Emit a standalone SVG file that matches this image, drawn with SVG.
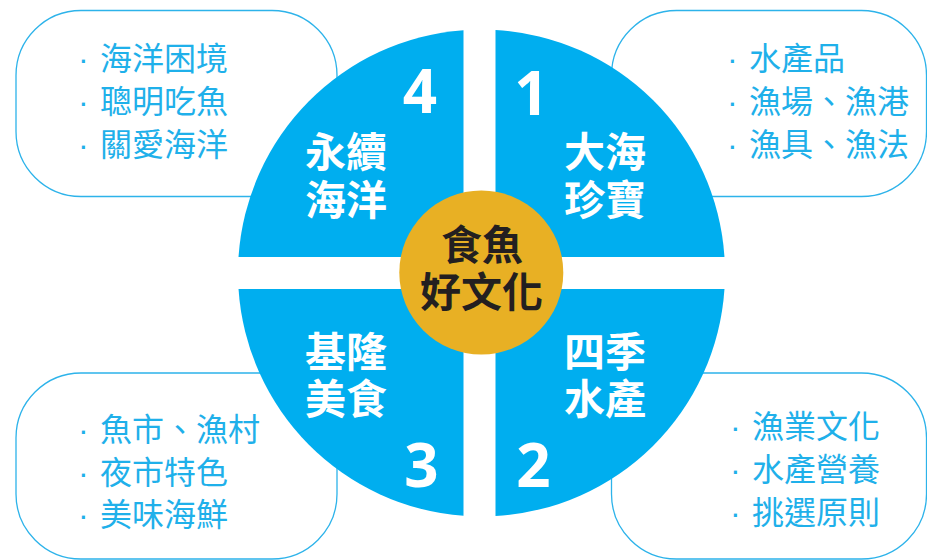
<svg xmlns="http://www.w3.org/2000/svg" width="927" height="560" viewBox="0 0 927 560">
<style>
.box{fill:#fff;stroke:#2DB3EA;stroke-width:1.3}
.q{fill:#00AEEF}
.item{font-family:"Noto Sans CJK TC","Noto Sans CJK SC",sans-serif;font-size:32px;fill:#1FB0EA}
.dot{font-family:"Liberation Sans",sans-serif}
.lab{font-family:"Noto Sans CJK TC","Noto Sans CJK SC",sans-serif;font-size:41px;font-weight:700;fill:#fff}
.num{font-family:"Open Sans","DejaVu Sans",sans-serif;font-size:60px;font-weight:700;fill:#fff;text-anchor:middle}
.ctr{font-family:"Noto Sans CJK TC","Noto Sans CJK SC",sans-serif;font-size:41px;font-weight:700;fill:#231F20;text-anchor:middle}
</style>
<g id="box4">
<rect class="box" x="16" y="10.5" width="321" height="186" rx="65"/>
<text class="item"><tspan class="dot" x="78" y="69.5">·</tspan><tspan x="100">海洋困境</tspan></text>
<text class="item"><tspan class="dot" x="78" y="112.8">·</tspan><tspan x="100">聰明吃魚</tspan></text>
<text class="item"><tspan class="dot" x="78" y="155.8">·</tspan><tspan x="100">關愛海洋</tspan></text>
</g>
<g id="box1">
<rect class="box" x="611.5" y="10.5" width="315" height="186" rx="65"/>
<text class="item"><tspan class="dot" x="727" y="69.5">·</tspan><tspan x="749">水產品</tspan></text>
<text class="item"><tspan class="dot" x="727" y="112.8">·</tspan><tspan x="749">漁場、漁港</tspan></text>
<text class="item"><tspan class="dot" x="727" y="155.8">·</tspan><tspan x="749">漁具、漁法</tspan></text>
</g>
<g id="box3">
<rect class="box" x="16" y="373" width="321" height="186" rx="65"/>
<text class="item"><tspan class="dot" x="78" y="441">·</tspan><tspan x="100">魚市、漁村</tspan></text>
<text class="item"><tspan class="dot" x="78" y="483.8">·</tspan><tspan x="100">夜市特色</tspan></text>
<text class="item"><tspan class="dot" x="78" y="526">·</tspan><tspan x="100">美味海鮮</tspan></text>
</g>
<g id="box2">
<rect class="box" x="611.5" y="373" width="315" height="186" rx="65"/>
<text class="item"><tspan class="dot" x="730" y="437.8">·</tspan><tspan x="752">漁業文化</tspan></text>
<text class="item"><tspan class="dot" x="730" y="480.5">·</tspan><tspan x="752">水產營養</tspan></text>
<text class="item"><tspan class="dot" x="730" y="523.5">·</tspan><tspan x="752">挑選原則</tspan></text>
</g>
<g id="quadrant4">
<path class="q" d="M463.5,257 L238.53,257 A243.5,243.5 0 0 1 463.5,30.17 Z"/>
<text class="num" x="420" y="113">4</text>
<text class="lab" x="305" y="167">永續</text>
<text class="lab" x="305" y="215">海洋</text>
</g>
<g id="quadrant1">
<path class="q" d="M495.5,257 L495.5,29.9 A243.5,243.5 0 0 1 724.47,257 Z"/>
<text class="num" x="531.5" y="115">1</text>
<text class="lab" x="564" y="167">大海</text>
<text class="lab" x="564" y="215">珍寶</text>
</g>
<g id="quadrant3">
<path class="q" d="M463.5,289 L463.5,515.83 A243.5,243.5 0 0 1 238.53,289 Z"/>
<text class="lab" x="305" y="367">基隆</text>
<text class="lab" x="305" y="414">美食</text>
<text class="num" x="421.5" y="487">3</text>
</g>
<g id="quadrant2">
<path class="q" d="M495.5,289 L724.47,289 A243.5,243.5 0 0 1 495.5,516.1 Z"/>
<text class="lab" x="564" y="367">四季</text>
<text class="lab" x="564" y="414">水產</text>
<text class="num" x="533.5" y="487">2</text>
</g>
<g id="center">
<circle cx="481.3" cy="272.5" r="82" fill="#E8B024"/>
<text class="ctr" x="482" y="260">食魚</text>
<text class="ctr" x="481.5" y="307">好文化</text>
</g>
<g id="connectors"/>
</svg>
